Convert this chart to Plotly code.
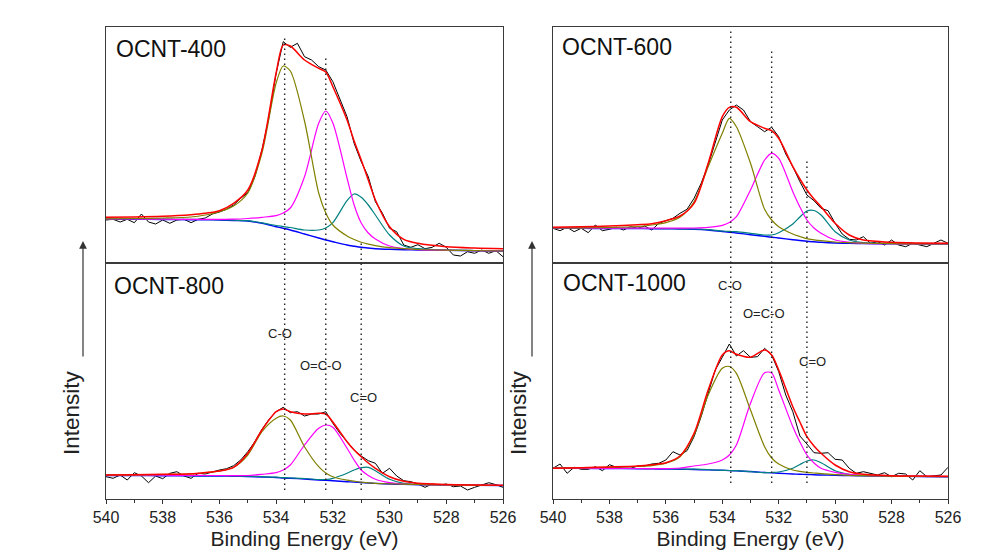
import plotly.graph_objects as go

# ---------------- data (intensity in arbitrary units) ----------------
E_FIT = [540, 539, 538, 537, 536.5, 536, 535.5, 535, 534.5, 534, 533.75, 533.5, 533,
         532.5, 532.25, 532, 531.5, 531.25, 531, 530.75, 530.5, 530, 529.5, 529, 528, 527, 526]

E_RAW = [540.0, 539.75, 539.5, 539.25, 539.0, 538.75, 538.5, 538.25, 538.0, 537.75,
         537.5, 537.25, 537.0, 536.75, 536.5, 536.25, 536.0, 535.75, 535.5, 535.25,
         535.0, 534.75, 534.5, 534.25, 534.0, 533.75, 533.5, 533.25, 533.0, 532.75,
         532.5, 532.25, 532.0, 531.75, 531.5, 531.25, 531.0, 530.75, 530.5, 530.25,
         530.0, 529.75, 529.5, 529.25, 529.0, 528.75, 528.5, 528.25, 528.0, 527.75,
         527.5, 527.25, 527.0, 526.75, 526.5, 526.25, 526.0]

SAMPLES = ["OCNT-400", "OCNT-600", "OCNT-800", "OCNT-1000"]

PEAK_NAMES = ["C-O", "O=C-O", "C=O"]
PEAK_POS = [533.7, 532.25, 531.0]

X_TICKS = [540, 538, 536, 534, 532, 530, 528, 526]

# raw spectra
raw_400 = [43, 43.7, 41, 43.7, 40.3, 49, 41, 39, 43, 39.7, 43, 43.7, 40.3, 43.7, 45, 49,
           51, 53.7, 58, 64.7, 70.3, 86.3, 113, 146.3, 189.7, 221.3, 215.7, 219.7, 206.3,
           203, 196.3, 193, 181.3, 164.7, 146.3, 119.7, 101.3, 86.3, 61.3, 49.7, 34.7,
           31.3, 18, 15.7, 18.3, 14.3, 15.7, 19.7, 15.7, 8, 7, 11.3, 9.7, 13, 9.7, 12.3, 6.3]
raw_600 = [34.7, 32.3, 35.7, 31.3, 34.7, 30.3, 38, 32.3, 33.7, 35.7, 33, 36.3, 34.7, 37,
           33, 39.7, 42.3, 44.7, 49.7, 53.7, 64.7, 79.7, 98, 119.7, 143, 153, 158, 153,
           141.3, 136.3, 131.3, 135.7, 126.3, 109, 96.3, 81.3, 68, 62.3, 54.7, 52.3, 39.7,
           29, 23.7, 23, 26.3, 19.7, 21.3, 18, 23, 18, 16.3, 19.7, 18, 16.3, 19.7, 23, 19.7]
raw_800 = [22.3, 20.7, 24, 19, 26.3, 23, 16.3, 23, 20.3, 25.7, 27.3, 23, 20.7, 25.7, 25,
           27.3, 29, 30.3, 33.3, 39, 47.3, 57.3, 69.7, 79.7, 87.3, 91.7, 86.3, 87.3, 83,
           85, 85, 87.3, 75.7, 65.7, 57.3, 49, 43, 38.3, 35.7, 25.7, 30.7, 23, 18.3, 17.3,
           15, 11.7, 15, 14, 15, 12.3, 13, 9, 11.7, 14, 16.3, 14.3, 11.7]
raw_1000 = [30.7, 35, 25.7, 31.7, 29.7, 29.7, 32.3, 28.3, 34.3, 31.7, 30.7, 30.7, 33, 33,
            35, 35.7, 39, 47.3, 44, 48.3, 62.3, 82.3, 105.7, 129, 141.7, 155, 143, 148.3,
            141.7, 142.3, 150.7, 144, 127.3, 104, 87.3, 63, 55, 46.3, 45.7, 46.3, 39.7, 39,
            30.7, 25.7, 27.3, 25.7, 24, 26.3, 22.3, 25.7, 25, 19, 28.3, 22.3, 23, 24, 31.7]

# fitted curves on E_FIT
bg_400 = [43.7, 43.7, 43.5, 43.3, 43.2, 43, 42.5, 42, 39.7, 36.3, 34.7, 33, 29, 25, 23,
          21.3, 18, 16.8, 15.7, 15, 14.3, 13.7, 13.3, 13, 12.7, 12.3, 12]
co_400 = [44.2, 44.5, 45, 46, 48, 51.3, 57, 70, 110, 180, 197, 192, 142, 70, 50, 38, 27,
          23.5, 20.7, 18.8, 17.3, 15.3, 14.3, 13.5, 12.8, 12.4, 12]
oco_400 = [44, 44, 43.8, 43.6, 43.6, 43.6, 43.8, 44.5, 45.7, 47.3, 50, 55, 86.3, 139.7,
           152, 140, 85, 58, 40, 30, 24, 17, 14.5, 13.3, 12.7, 12.3, 12]
cdo_400 = [44, 44, 43.8, 43.6, 43.5, 43.3, 42.8, 42.3, 40.2, 37.5, 36.5, 35.5, 33, 33, 35,
           40.3, 62.3, 69, 65.7, 58, 48, 28, 17, 14.3, 13, 12.5, 12.2]
fit_400 = [45.7, 46, 46.7, 48.3, 49.7, 52.3, 59.7, 73, 113, 190, 218, 217, 203, 194.7, 191,
           176.3, 143, 122, 103, 83, 63, 36.3, 23.7, 19.7, 16.3, 15, 14.3]

bg_600 = [34.7, 34.6, 34.5, 34.4, 34.3, 34.2, 34, 33.8, 33, 31.5, 30.8, 30, 28.3, 26.7,
          25.8, 25, 23.3, 22.5, 21.7, 21.2, 20.7, 20, 19.7, 19.5, 19.2, 19.1, 19]
co_600 = [35, 35.2, 35.5, 36.5, 38, 40.3, 45.7, 61.3, 96.3, 129.7, 144.7, 136.3, 99.7,
          53.7, 43, 36.3, 29, 26.5, 24.3, 23.2, 22.3, 21, 20.3, 19.8, 19.3, 19.1, 19]
oco_600 = [35, 35, 34.9, 34.8, 34.8, 34.8, 34.8, 35, 35.7, 37.7, 40.5, 46.3, 73, 103,
           109.7, 104.7, 71.3, 56, 43, 35, 29.7, 23, 20.7, 19.7, 19.3, 19.1, 19]
cdo_600 = [35, 34.9, 34.8, 34.6, 34.5, 34.4, 34.2, 34, 33.3, 32, 31.6, 31.3, 29.7, 28, 28,
           30.3, 39, 46, 52, 52.5, 48, 31.3, 23, 20.3, 19.5, 19.2, 19]
fit_600 = [35.7, 36.3, 37, 38.3, 39.3, 42.3, 47, 59.7, 99.7, 146.3, 155.7, 155.7, 141.3,
           134.7, 132.3, 124.7, 96.3, 84, 73, 64, 56.3, 39.7, 28, 23, 20.7, 20, 19.7]

bg_800 = [23.5, 23.4, 23.3, 23.1, 23, 23, 22.8, 22.5, 22, 21.5, 21, 20.7, 20, 19, 18.7,
          18.3, 17.3, 16.9, 16.5, 16, 15.6, 15, 14.6, 14.3, 14, 13.7, 13.5]
co_800 = [24, 24.2, 24.5, 25, 26.3, 28, 31.7, 44, 67.3, 80.7, 83, 79, 52.3, 32.3, 26,
          22.3, 18.8, 17.8, 16.8, 16.2, 15.7, 15.2, 14.8, 14.5, 14, 13.7, 13.5]
oco_800 = [24, 23.9, 23.8, 23.6, 23.5, 23.5, 23.4, 23.5, 24.7, 26.3, 29, 34, 54, 70.7, 74,
           71.7, 50.7, 39, 29, 23.5, 19.7, 16.3, 15, 14.5, 14, 13.7, 13.5]
cdo_800 = [23.8, 23.7, 23.6, 23.4, 23.3, 23.3, 23.1, 22.8, 22.3, 21.8, 21.3, 21, 20.5,
           19.5, 19.5, 20.7, 25.7, 29, 31.3, 31.7, 28.3, 19.7, 15.7, 14.5, 14, 13.7, 13.5]
fit_800 = [24, 24.3, 24.7, 25.3, 26.5, 28, 31.7, 45.7, 69, 87.3, 90, 87.3, 85, 85.7, 85,
           77, 57.3, 49, 42.3, 36, 30.7, 22.3, 17.7, 15.7, 14.5, 14, 13.7]

bg_1000 = [30.7, 30.6, 30.5, 30.3, 30.1, 30, 29.8, 29.5, 29.1, 28.7, 28.4, 28.1, 27.5,
           26.5, 26.1, 25.7, 25, 24.7, 24.5, 24.2, 24, 23.7, 23.4, 23.2, 22.8, 22.5, 22.3]
co_1000 = [31, 31.3, 31.7, 32.5, 33.3, 35.7, 42.3, 64, 104, 130.7, 132.5, 125.7, 89, 52.3,
           41, 35, 29, 27.7, 26.7, 26, 25.3, 24.3, 23.7, 23.3, 22.8, 22.5, 22.3]
oco_1000 = [31, 30.8, 30.6, 30.5, 30.4, 30.4, 31, 33, 35, 39, 44, 54, 95.7, 126.3, 126,
            109, 72.3, 57, 44, 36, 30.7, 26.7, 24.7, 23.7, 23, 22.6, 22.3]
cdo_1000 = [31, 30.9, 30.7, 30.5, 30.4, 30.3, 30, 29.8, 29.3, 28.7, 28.5, 28.3, 27.3,
            26.3, 26.5, 27, 30.7, 34.5, 38, 39, 36.3, 28.3, 24.7, 23.3, 22.8, 22.5, 22.3]
fit_1000 = [30.7, 31.3, 32, 33, 34.3, 36.3, 43, 65.7, 109, 144, 148.3, 144.7, 141.7, 149,
            144, 129, 92.3, 77, 62.3, 53, 45.7, 34, 27.3, 24.7, 23.3, 23, 22.7]

# ---------------- figure ----------------
W, H = 988, 555
FONT = "Liberation Sans, Arial, sans-serif"

panels = [
    ("OCNT-400", raw_400, bg_400, co_400, oco_400, cdo_400, fit_400, ""),
    ("OCNT-600", raw_600, bg_600, co_600, oco_600, cdo_600, fit_600, "2"),
    ("OCNT-800", raw_800, bg_800, co_800, oco_800, cdo_800, fit_800, "3"),
    ("OCNT-1000", raw_1000, bg_1000, co_1000, oco_1000, cdo_1000, fit_1000, "4"),
]

fig = go.Figure()

for name, raw, bg, co, oco, cdo, fit, sfx in panels:
    xa, ya = "x" + sfx, "y" + sfx
    fig.add_trace(go.Scatter(x=E_RAW, y=raw, mode="lines", xaxis=xa, yaxis=ya,
                             line=dict(color="#000000", width=1), showlegend=False))
    for ys, col, wd in [(bg, "#0000FF", 1.4), (cdo, "#008080", 1.2),
                        (oco, "#FF00FF", 1.2), (co, "#808000", 1.2),
                        (fit, "#FF0000", 1.5)]:
        fig.add_trace(go.Scatter(x=E_FIT, y=ys, mode="lines", xaxis=xa, yaxis=ya,
                                 line=dict(color=col, width=wd, shape="spline",
                                           smoothing=0.8),
                                 showlegend=False))

def px(v):
    return v / W

def py(v):
    return (H - v) / H

LEFT = [px(106), px(503)]
RIGHT = [px(553), px(948)]
TOP = [py(263), py(27)]
BOT = [py(499), py(263)]

ax_common = dict(range=[540, 526], showline=True, mirror=True, linecolor="#3a3a3a",
                 linewidth=1.2, showgrid=False, zeroline=False,
                 tickvals=X_TICKS, fixedrange=True, automargin=False)
ay_common = dict(range=[0, 236], showline=True, mirror=True, linecolor="#3a3a3a",
                 linewidth=1.2, showgrid=False, zeroline=False, ticks="",
                 showticklabels=False, fixedrange=True, automargin=False)
bottom_x = dict(showticklabels=True, ticks="outside", ticklen=4, tickwidth=1.2,
                tickcolor="#333333",
                tickfont=dict(family=FONT, size=16, color="#222222"),
                minor=dict(ticks="outside", dtick=1, tick0=1, ticklen=3,
                           tickcolor="#333333", tickwidth=1.2),
                title=dict(text="Binding Energy (eV)",
                           font=dict(family=FONT, size=21, color="#222222"),
                           standoff=6))

fig.update_layout(
    width=W, height=H,
    margin=dict(l=0, r=0, t=0, b=0, pad=0, autoexpand=False),
    paper_bgcolor="white", plot_bgcolor="white",
    xaxis=dict(domain=LEFT, anchor="y", showticklabels=False, ticks="", **ax_common),
    yaxis=dict(domain=TOP, anchor="x", **ay_common),
    xaxis2=dict(domain=RIGHT, anchor="y2", showticklabels=False, ticks="", **ax_common),
    yaxis2=dict(domain=TOP, anchor="x2", **ay_common),
    xaxis3=dict(domain=LEFT, anchor="y3", **bottom_x, **ax_common),
    yaxis3=dict(domain=BOT, anchor="x3", **ay_common),
    xaxis4=dict(domain=RIGHT, anchor="y4", **bottom_x, **ax_common),
    yaxis4=dict(domain=BOT, anchor="x4", **ay_common),
)

# sample labels
label_pos = {"OCNT-400": (114, 49), "OCNT-600": (560, 47),
             "OCNT-800": (112, 286), "OCNT-1000": (561, 283)}
for s in SAMPLES:
    lx, ly = label_pos[s]
    fig.add_annotation(text=s, xref="paper", yref="paper", x=px(lx), y=py(ly),
                       xanchor="left", yanchor="middle", showarrow=False,
                       font=dict(family=FONT, size=23, color="#111111"))

# dotted guide lines (span both panels of a column)
guide_spans = {
    "x3": [(37, 490), (57, 490), (240, 490)],
    "x4": [(28, 483), (48, 483), (160, 483)],
}
for xr, spans in guide_spans.items():
    for pos, (ytop, ybot) in zip(PEAK_POS, spans):
        fig.add_shape(type="line", xref=xr, yref="paper", x0=pos, x1=pos,
                      y0=py(ybot), y1=py(ytop),
                      line=dict(color="#222222", width=1.4, dash="1.5px,3.5px"))

# peak labels
peak_label_pos = {
    ("x3", "y3"): [(533.86, 166), (532.43, 134), (530.93, 102)],
    ("x4", "y4"): [(533.73, 214), (532.51, 186), (530.79, 138)],
}
for (xr, yr), poss in peak_label_pos.items():
    for txt, (lx, ly) in zip(PEAK_NAMES, poss):
        fig.add_annotation(text=txt, xref=xr, yref=yr, x=lx, y=ly, showarrow=False,
                           xanchor="center", yanchor="middle",
                           font=dict(family=FONT, size=13, color="#222222"))

# Intensity labels with arrows
for tx, axx in [(71, 83), (518, 532)]:
    fig.add_annotation(text="Intensity", xref="paper", yref="paper", x=px(tx),
                       y=py(413), textangle=-90, showarrow=False,
                       xanchor="center", yanchor="middle",
                       font=dict(family=FONT, size=22.5, color="#222222"))
    fig.add_annotation(text="", xref="paper", yref="paper", x=px(axx), y=py(241),
                       ax=0, ay=117, axref="pixel", ayref="pixel",
                       showarrow=True, arrowhead=2, arrowsize=1.3, arrowwidth=1.2,
                       arrowcolor="#333333")

fig.write_html("out.html", config={"displayModeBar": False},
               post_script="document.body.style.margin='0px';")
